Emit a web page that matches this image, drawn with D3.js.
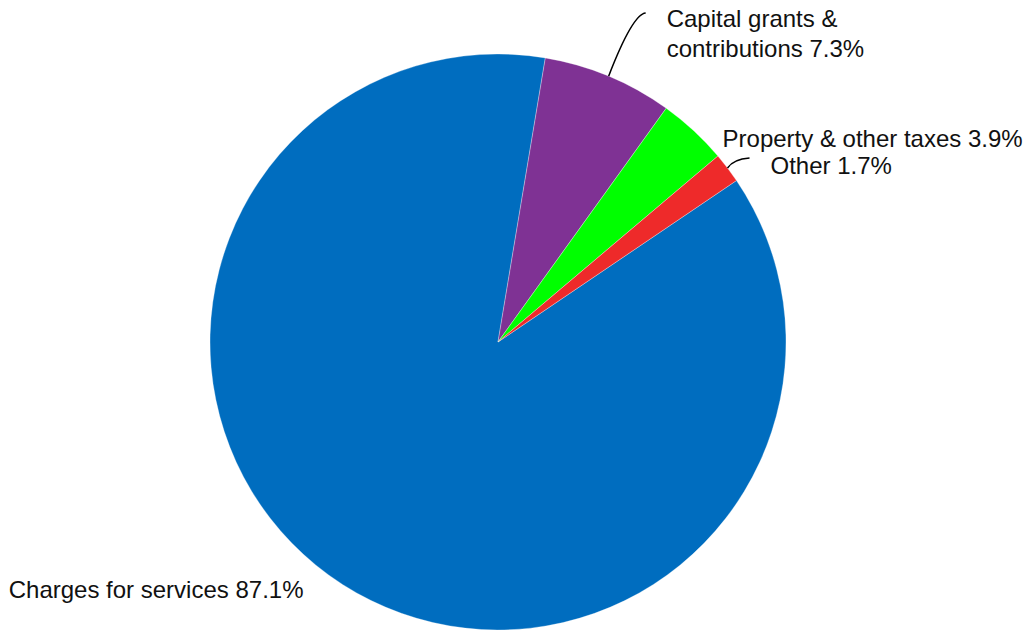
<!DOCTYPE html>
<html>
<head>
<meta charset="utf-8">
<script src="https://cdn.jsdelivr.net/npm/d3@7"></script>
<style>
  html, body { margin: 0; padding: 0; background: #fff; }
  text { font-family: "Liberation Sans", Arial, sans-serif; font-size: 24px; fill: #111; }
</style>
</head>
<body>
<div id="app"></div>
<script>
const categories = ["Charges for services", "Capital grants & contributions", "Property & other taxes", "Other"];
const shares = [87.1, 7.3, 3.9, 1.7];
const colors = ["#006dbf", "#7f3294", "#00ff00", "#ee2a2a"];

const width = 1024, height = 630;
const cx = 498, cy = 342, radius = 288;
const startDeg = 55.9;

const svg = d3.select("#app").append("svg")
    .attr("width", width)
    .attr("height", height)
    .attr("viewBox", [0, 0, width, height]);

const pie = d3.pie()
    .sort(null)
    .value(d => d)
    .startAngle(startDeg * Math.PI / 180)
    .endAngle(startDeg * Math.PI / 180 + 2 * Math.PI);

const arcs = pie(shares);
const arc = d3.arc().innerRadius(0).outerRadius(radius);

const g = svg.append("g").attr("transform", `translate(${cx},${cy})`);

g.selectAll("path")
  .data(arcs)
  .join("path")
    .attr("fill", (d, i) => colors[i])
    .attr("stroke", "#ffffff")
    .attr("stroke-opacity", 0.5)
    .attr("stroke-width", 0.6)
    .attr("d", arc);

// point on the rim at the middle of a slice
const rim = d => {
  const a = (d.startAngle + d.endAngle) / 2;
  return [radius * Math.sin(a), -radius * Math.cos(a)];
};

// label layout: offsets from the rim midpoint (layout only)
const labels = [
  {lines: [`${categories[0]} ${shares[0]}%`], dx: -39, dy: 14, anchor: "end"},
  {lines: ["Capital grants &", `contributions ${shares[1]}%`], dx: 58, dy: -49, anchor: "start",
   leader: {c: [24, -62], e: [37, -63]}},
  {lines: [`${categories[2]} ${shares[2]}%`], dx: 29, dy: 16, anchor: "start"},
  {lines: [`${categories[3]} ${shares[3]}%`], dx: 43, dy: 6, anchor: "start",
   leader: {c: [6, -9], e: [22, -10]}}
];

arcs.forEach((d, i) => {
  const [px, py] = rim(d);
  const L = labels[i];
  if (L.leader) {
    g.append("path")
      .attr("fill", "none")
      .attr("stroke", "#000")
      .attr("stroke-width", 1.5)
      .attr("d", `M${px},${py}Q${px + L.leader.c[0]},${py + L.leader.c[1]} ${px + L.leader.e[0]},${py + L.leader.e[1]}`);
  }
  const t = g.append("text")
      .attr("text-anchor", L.anchor)
      .attr("x", px + L.dx)
      .attr("y", py + L.dy);
  L.lines.forEach((line, j) => {
    t.append("tspan")
      .attr("x", px + L.dx)
      .attr("dy", j === 0 ? 0 : 30)
      .text(line);
  });
});
</script>
</body>
</html>
